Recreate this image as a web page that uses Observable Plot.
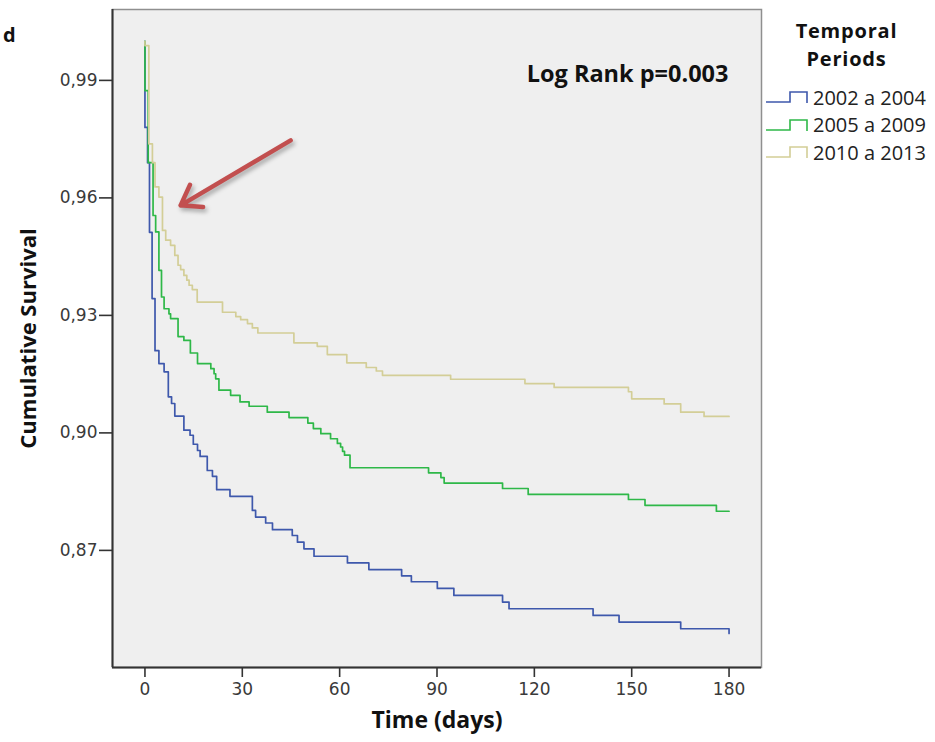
<!DOCTYPE html>
<html>
<head>
<meta charset="utf-8">
<script src="https://cdn.jsdelivr.net/npm/d3@7"></script>
<script src="https://cdn.jsdelivr.net/npm/@observablehq/plot@0.6"></script>
<style>
  body { margin: 0; background: #ffffff; }
  #wrap { position: relative; width: 935px; height: 742px; font-family: "Open Sans", sans-serif; }
  #panel { position: absolute; left: 3px; top: 21px; font-weight: 700; font-size: 20px; color: #111; }
  #legend { position: absolute; left: 762px; top: 0px; width: 173px; }
  #legend .title { position: absolute; left: -2px; width: 173px; text-align: center; font-weight: 700; font-size: 20px; letter-spacing: 0.8px; line-height: 22px; height: 22px; color: #111; }
  #legend .item { position: absolute; left: 3px; height: 26px; display: flex; align-items: center; font-size: 20px; color: #222; white-space: nowrap; }
  #legend svg { margin-right: 3px; }
</style>
</head>
<body>
<div id="wrap">
  <div id="chart"></div>
  <div id="panel">d</div>
  <div id="legend"></div>
</div>
<script>
// ---- data ----
const periods = ["2002 a 2004", "2005 a 2009", "2010 a 2013"];
const colors = ["#3e58ac", "#2eb848", "#d3ce97"];
const legendTitle = ["Temporal", "Periods"];

const time2002 = [0,0,0.8,1.4,2.2,3.1,4.3,5.9,7.2,8.2,9.2,12,13.9,14.9,16.2,17,19.2,20.8,22.1,26.2,33.1,34.1,37.2,39.3,45.4,47,49,52.1,62.4,69,79.1,82.1,90.1,95.2,110.2,112.2,138.1,146.1,165.1,180];
const surv2002 = [1,0.978,0.969,0.9512,0.9343,0.921,0.9177,0.9156,0.9092,0.9075,0.9043,0.9007,0.8994,0.8971,0.8955,0.894,0.8904,0.8889,0.8855,0.8838,0.8802,0.8785,0.877,0.8753,0.8738,0.8721,0.8704,0.8685,0.8668,0.8651,0.8635,0.862,0.8603,0.8585,0.8568,0.8551,0.8534,0.8517,0.85,0.8488];

const time2005 = [0,0,1.0,2.5,3.3,4.3,5.1,5.9,7.4,7.9,10.2,12,14,16.2,20.3,21.3,21.8,22.8,26.4,29.3,32.1,37.7,44.4,50.2,51.9,54.2,57.2,59.3,60.3,60.9,61.5,63.2,87.4,91.2,92.2,110.2,118.1,149,154.1,176.1,180];
const surv2005 = [1,0.9874,0.969,0.9555,0.9513,0.9415,0.9347,0.9317,0.9304,0.9292,0.9246,0.9236,0.9204,0.9177,0.9164,0.9151,0.9138,0.9109,0.9096,0.9079,0.9068,0.9053,0.9039,0.9025,0.9011,0.8998,0.8985,0.8973,0.8964,0.8953,0.8943,0.8911,0.8898,0.8886,0.8872,0.8858,0.8843,0.883,0.8815,0.88,0.88];

const time2010 = [0,0,1.2,2.3,3.1,4.3,5.4,6.4,7.9,9.2,10.2,11,12,12.9,13.6,14.6,16.1,23.9,28,29.5,31.6,33.1,34.8,45.9,53.1,56.2,62.2,68.2,71.3,73.2,94.2,117.1,126.1,149,150,160,165.1,172.3,180];
const surv2010 = [1,0.9989,0.9738,0.969,0.9628,0.9602,0.9517,0.9492,0.9479,0.9453,0.9428,0.9417,0.9402,0.939,0.9377,0.9366,0.9334,0.9308,0.9297,0.9289,0.9279,0.9268,0.9255,0.923,0.9221,0.92,0.9179,0.9167,0.9158,0.9147,0.9137,0.9126,0.9116,0.9105,0.9087,0.9074,0.9053,0.9042,0.9042];

const xTicks = [0, 30, 60, 90, 120, 150, 180];
const yTicks = [0.87, 0.90, 0.93, 0.96, 0.99];
const xDomain = [-10, 190];
const yDomain = [0.8401, 1.0081];

const annotation = ["Log Rank p=0.003"];
const arrowFrom = {t: 44.9, s: 0.9747};
const arrowTo = {t: 11.0, s: 0.9581};

// ---- build ----
const mk = (times, surv) => times.map((t, i) => ({t, s: surv[i]}));
const series = [mk(time2002, surv2002), mk(time2005, surv2005), mk(time2010, surv2010)];

const font = "DejaVu Sans, sans-serif";
const chart = Plot.plot({
  width: 935,
  height: 742,
  marginLeft: 112,
  marginRight: 174,
  marginTop: 9,
  marginBottom: 75,
  style: {background: "#ffffff", fontFamily: font, color: "#333"},
  x: {domain: xDomain},
  y: {domain: yDomain},
  marks: [
    Plot.frame({fill: "#efefef", stroke: "#8f8f8f", strokeWidth: 1.5}),
    Plot.axisY({ticks: yTicks, tickSize: 13, tickPadding: 2, strokeWidth: 1.6, stroke: "#333",
      tickFormat: d => d.toFixed(2).replace(".", ","), fontSize: 17, fill: "#3a3a3a", label: null}),
    Plot.axisX({ticks: xTicks, tickSize: 10, tickPadding: 5, strokeWidth: 1.6, stroke: "#333",
      tickFormat: d => String(d), fontSize: 17, fill: "#3a3a3a", label: null}),
    Plot.ruleX([xDomain[0]], {stroke: "#333", strokeWidth: 2}),
    Plot.ruleY([yDomain[0]], {stroke: "#333", strokeWidth: 2}),
    ...series.map((data, i) => Plot.line(data, {x: "t", y: "s", curve: "step-after", stroke: colors[i], strokeWidth: 1.7})),
    Plot.arrow([{x1: arrowFrom.t, y1: arrowFrom.s, x2: arrowTo.t, y2: arrowTo.s}],
      {x1: "x1", y1: "y1", x2: "x2", y2: "y2", stroke: "#c24f4f", strokeWidth: 4.5, headLength: 7.5, headAngle: 70}),
    Plot.text(annotation, {frameAnchor: "top-right", dx: -33, dy: 56, textAnchor: "end",
      fontSize: 23.5, fontWeight: 700, fill: "#111", fontFamily: "Open Sans"}),
    Plot.text(["Cumulative Survival"], {frameAnchor: "left", dx: -84, rotate: -90, textAnchor: "middle",
      fontSize: 22, fontWeight: 700, fill: "#111", fontFamily: "Open Sans"}),
    Plot.text(["Time (days)"], {frameAnchor: "bottom", dy: 60, textAnchor: "middle",
      fontSize: 23, fontWeight: 700, fill: "#111", fontFamily: "Open Sans"})
  ]
});
document.getElementById("chart").appendChild(chart);
const arr = chart.querySelector('[aria-label="arrow"]');
if (arr) arr.style.filter = "drop-shadow(2px 3px 2px rgba(0,0,0,0.3))";

// ---- legend ----
const legend = document.getElementById("legend");
legendTitle.forEach((t, i) => {
  const d = document.createElement("div");
  d.className = "title";
  d.style.top = (20 + i * 28) + "px";
  d.textContent = t;
  legend.appendChild(d);
});
periods.forEach((p, i) => {
  const item = document.createElement("div");
  item.className = "item";
  item.style.top = (84 + i * 27.5) + "px";
  item.innerHTML = `<svg width="45" height="18"><path d="M1,14H25V4H42V15" fill="none" stroke="${colors[i]}" stroke-width="1.6"/></svg><span>${p}</span>`;
  legend.appendChild(item);
});
</script>
</body>
</html>
